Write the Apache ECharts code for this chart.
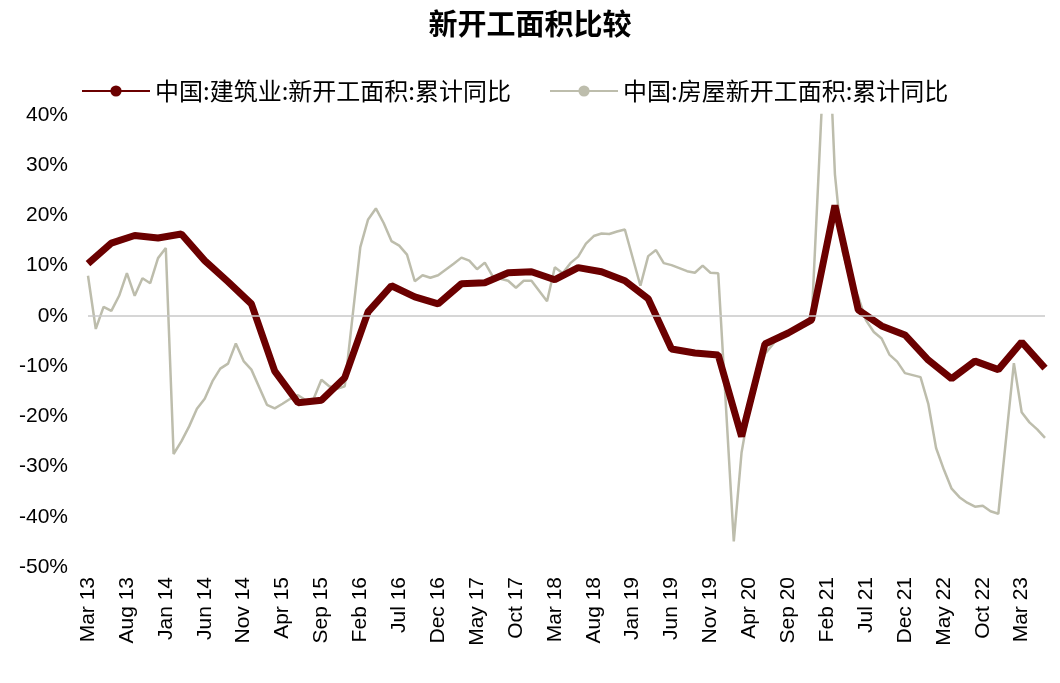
<!DOCTYPE html>
<html><head><meta charset="utf-8">
<script src="https://cdn.jsdelivr.net/npm/echarts@6/dist/echarts.min.js"></script>
<style>html,body{margin:0;padding:0;background:#fff}#c{width:1060px;height:683px}</style>
</head><body><div id="c"></div>
<script>
const monthNames=['Jan','Feb','Mar','Apr','May','Jun','Jul','Aug','Sep','Oct','Nov','Dec'];
const categories=[];
for(let y=13;y<=23;y++){for(let m=0;m<12;m++){if(y===13&&m<2)continue;if(y===23&&m>5)continue;categories.push(monthNames[m]+' '+y);}}
// quarterly construction (Mar, Jun, Sep, Dec)
const constructionQ=[10.4,14.5,16,15.5,16.3,11,6.8,2.4,-11,-17.3,-16.8,-12.3,0.8,6,3.8,2.4,6.4,6.6,8.6,8.8,7.2,9.6,8.8,7,3.4,-6.6,-7.4,-7.8,-24,-5.6,-3.4,-0.8,22,1.2,-2,-3.8,-8.8,-12.5,-9,-10.7,-5.2,-10.4];
// monthly housing new starts (Jan null)
const housing=[
8,-2.6,1.8,1,4,8.5,4,7.5,6.5,11.5,
null,13.5,-27.5,-25,-22,-18.5,-16.5,-13,-10.5,-9.5,-5.5,-9,-10.7,
null,-17.7,-18.4,-17.5,-16.5,-15.8,-16.8,-16.5,-12.7,-14,-14.5,-14,
null,13.7,19.2,21.4,18.5,14.9,14,12.2,6.9,8.1,7.6,8.1,
null,10.4,11.6,11,9.3,10.6,7.9,7.4,7,5.6,7,7,
null,2.9,9.7,8.5,10.5,11.8,14.4,15.9,16.4,16.3,16.8,17.2,
null,6,11.9,13.1,10.5,10.1,9.5,8.9,8.6,10,8.6,8.5,
null,-44.9,-27.2,-18.4,-12.8,-7.6,-5.7,-3.6,-3.4,-2.7,-2,-1.2,
null,64.3,28.2,12.8,6.9,3.8,-0.9,-3.2,-4.5,-7.7,-9.1,-11.4,
null,-12.2,-17.5,-26.3,-30.6,-34.4,-36.1,-37.2,-38,-37.8,-38.9,-39.4,
null,-9.4,-19.2,-21.2,-22.6,-24.3];
housing.splice(10,2,13.5,-27.5); housing.splice(12,1);
const construction=categories.map(()=>null);
constructionQ.forEach((v,i)=>{construction[i*3]=v;});
const yTicks={min:-50,max:40,interval:10};
const chart=echarts.init(document.getElementById('c'));
chart.setOption({
animation:false,
title:{text:'新开工面积比较',left:'center',top:4,textStyle:{fontSize:29,fontWeight:'bold',color:'#000',fontFamily:'Noto Sans CJK SC'}},
legend:{top:74,left:76,itemGap:38,itemWidth:68,itemHeight:14,textStyle:{fontSize:24,color:'#000',fontFamily:'Noto Sans CJK SC'},
 data:['中国:建筑业:新开工面积:累计同比','中国:房屋新开工面积:累计同比']},
grid:{left:88,right:15,top:115,bottom:116},
xAxis:{type:'category',data:categories,boundaryGap:false,axisLine:{show:false},axisTick:{show:false},
 axisLabel:{interval:4,rotate:90,fontSize:21,color:'#000',fontFamily:'Arial, Liberation Sans',margin:10}},
yAxis:{type:'value',min:yTicks.min,max:yTicks.max,interval:yTicks.interval,splitLine:{show:false},axisLine:{show:false},axisTick:{show:false},
 axisLabel:{formatter:'{value}%',fontSize:21,color:'#000',fontFamily:'Arial, Liberation Sans',margin:20}},
series:[
{name:'中国:房屋新开工面积:累计同比',type:'line',data:housing,connectNulls:true,showSymbol:false,symbol:'none',clip:true,z:2,
 lineStyle:{color:'#bdbdac',width:2.5},itemStyle:{color:'#bdbdac'},
 markLine:{silent:true,symbol:'none',label:{show:false},lineStyle:{color:'#c8c8c8',width:1.5,type:'solid'},data:[{yAxis:0}]}},
{name:'中国:建筑业:新开工面积:累计同比',type:'line',data:construction,connectNulls:true,showSymbol:false,symbol:'none',clip:true,z:3,
 lineStyle:{color:'#6b0000',width:7},itemStyle:{color:'#6b0000'}}
]});
</script></body></html>
